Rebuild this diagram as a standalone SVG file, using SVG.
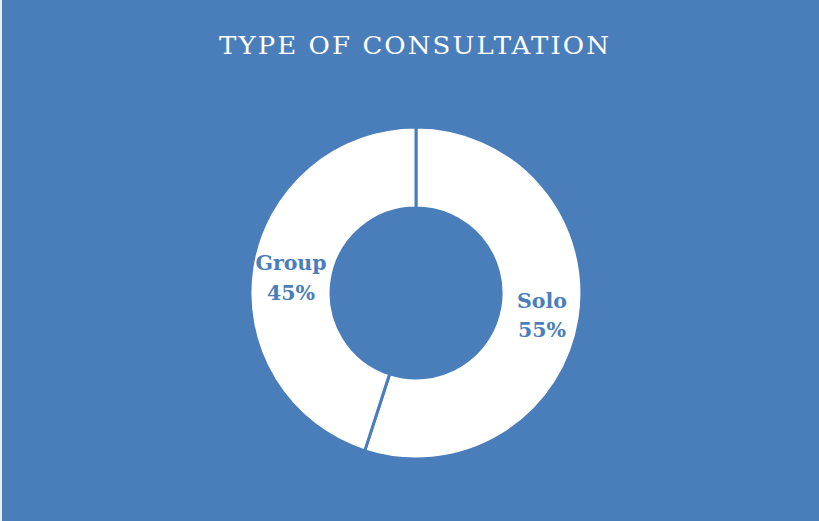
<svg xmlns="http://www.w3.org/2000/svg" width="819" height="521" viewBox="0 0 819 521">
<style>
.title{font-family:"DejaVu Serif","Liberation Serif",serif;font-size:25px;fill:#ffffff;letter-spacing:2px}
.lbl{font-family:"DejaVu Serif","Liberation Serif",serif;font-size:20.5px;font-weight:bold;fill:#4a7ebb;text-anchor:middle}
.seg{fill:#ffffff;stroke:#4a7ebb;stroke-width:3;stroke-linejoin:miter}
</style>
<rect x="0" y="0" width="819" height="521" fill="#4a7ebb"/>
<line x1="1" y1="0" x2="1" y2="521" stroke="#e8eef6" stroke-width="2"/>
<text class="title" x="219" y="54" textLength="392" lengthAdjust="spacingAndGlyphs">TYPE OF CONSULTATION</text>
<g id="solo">
<path class="seg" d="M416,127 A166,166 0 1 1 364.7,450.9 L389.7,373.8 A85,85 0 1 0 416,208 Z"/>
<text class="lbl" x="542" y="308">Solo</text>
<text class="lbl" x="542" y="337">55%</text>
</g>
<g id="group">
<path class="seg" d="M364.7,450.9 A166,166 0 0 1 416,127 L416,208 A85,85 0 0 0 389.7,373.8 Z"/>
<text class="lbl" x="291" y="270">Group</text>
<text class="lbl" x="291" y="300">45%</text>
</g>
<g id="connectors"></g>
</svg>
